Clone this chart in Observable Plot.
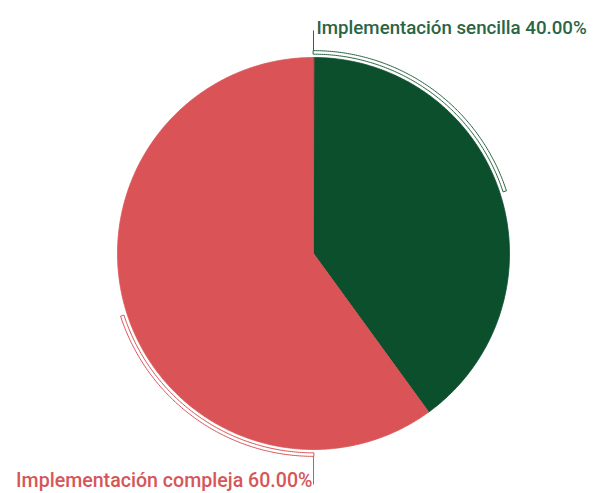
<!DOCTYPE html>
<html>
<head>
<meta charset="utf-8">
<script src="https://cdn.jsdelivr.net/npm/d3@7"></script>
<script src="https://cdn.jsdelivr.net/npm/@observablehq/plot@0.6"></script>
<style>
  html, body { margin: 0; padding: 0; background: #fff; }
  #chart svg { display: block; }
</style>
</head>
<body>
<div id="chart"></div>
<script>
// ---- data ----
const categories = ["Implementación sencilla", "Implementación compleja"];
const values = [40, 60];
const labels = ["Implementación sencilla 40.00%", "Implementación compleja 60.00%"];
const sliceColors = ["#0b4f2d", "#da5457"];
const textColors = ["#2a6544", "#d65658"];

// ---- geometry (unit circle coordinates, y up) ----
const W = 603, H = 493;
const cx = 313, cy = 253, R = 196;
const xDomain = [-cx / R, (W - cx) / R];
const yDomain = [-(H - cy) / R, cy / R];

const arcs = d3.pie().sort(null).value(d => d)(values);
const pt = (a, r) => ({ x: r * Math.sin(a), y: r * Math.cos(a) });

function slicePoly(a0, a1, i) {
  const pts = [{ ...pt(0, 0), i }];
  const n = Math.max(8, Math.ceil((a1 - a0) / 0.01));
  for (let k = 0; k <= n; k++) pts.push({ ...pt(a0 + (a1 - a0) * k / n, 1), i });
  return pts;
}
function bandPoly(a0, a1, r0, r1, i) {
  const pts = [];
  const n = Math.max(8, Math.ceil(Math.abs(a1 - a0) / 0.01));
  for (let k = 0; k <= n; k++) pts.push({ ...pt(a0 + (a1 - a0) * k / n, r1), i });
  for (let k = n; k >= 0; k--) pts.push({ ...pt(a0 + (a1 - a0) * k / n, r0), i });
  return pts;
}

const r0 = 1.017, r1 = 1.035;
const marks = [];
arcs.forEach((a, i) => {
  marks.push(Plot.line(slicePoly(a.startAngle, a.endAngle, i), {
    x: "x", y: "y", curve: "linear-closed",
    fill: sliceColors[i], stroke: sliceColors[i], strokeWidth: 0.8
  }));
});
// brackets: from slice mid-angle to the nearest vertical (top or bottom)
arcs.forEach((a, i) => {
  const mid = (a.startAngle + a.endAngle) / 2;
  const anchorAngle = Math.abs(mid - Math.PI) < Math.PI / 2 ? Math.PI : 0;
  marks.push(Plot.line(bandPoly(anchorAngle, mid, r0, r1, i), {
    x: "x", y: "y", curve: "linear-closed",
    fill: "white", stroke: textColors[i], strokeWidth: 1
  }));
});
// leader lines & labels
const leaderEnd = [ (cy - 30) / R, -(484 - cy) / R ];
const leaders = arcs.map((a, i) => {
  const mid = (a.startAngle + a.endAngle) / 2;
  const top = Math.abs(mid - Math.PI) >= Math.PI / 2;
  return { x1: 0, y1: top ? r1 : -r1, x2: 0, y2: leaderEnd[i], i };
});
marks.push(Plot.link(leaders, {
  x1: "x1", y1: "y1", x2: "x2", y2: "y2",
  stroke: d => textColors[d.i], strokeWidth: 1
}));
const labelPos = [
  { x: 3 / R, y: (cy - 33) / R, anchor: "start", size: 18.7 },
  { x: -1 / R, y: -(486 - cy) / R, anchor: "end", size: 19.6 }
];
labelPos.forEach((p, i) => {
  marks.push(Plot.text([{ x: p.x, y: p.y, t: labels[i] }], {
    x: "x", y: "y", text: "t", textAnchor: p.anchor, lineAnchor: "bottom",
    fill: textColors[i], fontSize: p.size, fontFamily: "Roboto", fontWeight: 500
  }));
});

const chart = Plot.plot({
  width: W, height: H,
  margin: 0,
  x: { domain: xDomain, axis: null },
  y: { domain: yDomain, axis: null },
  style: { background: "white", fontFamily: "Roboto" },
  marks
});
document.getElementById("chart").append(chart);
</script>
</body>
</html>
